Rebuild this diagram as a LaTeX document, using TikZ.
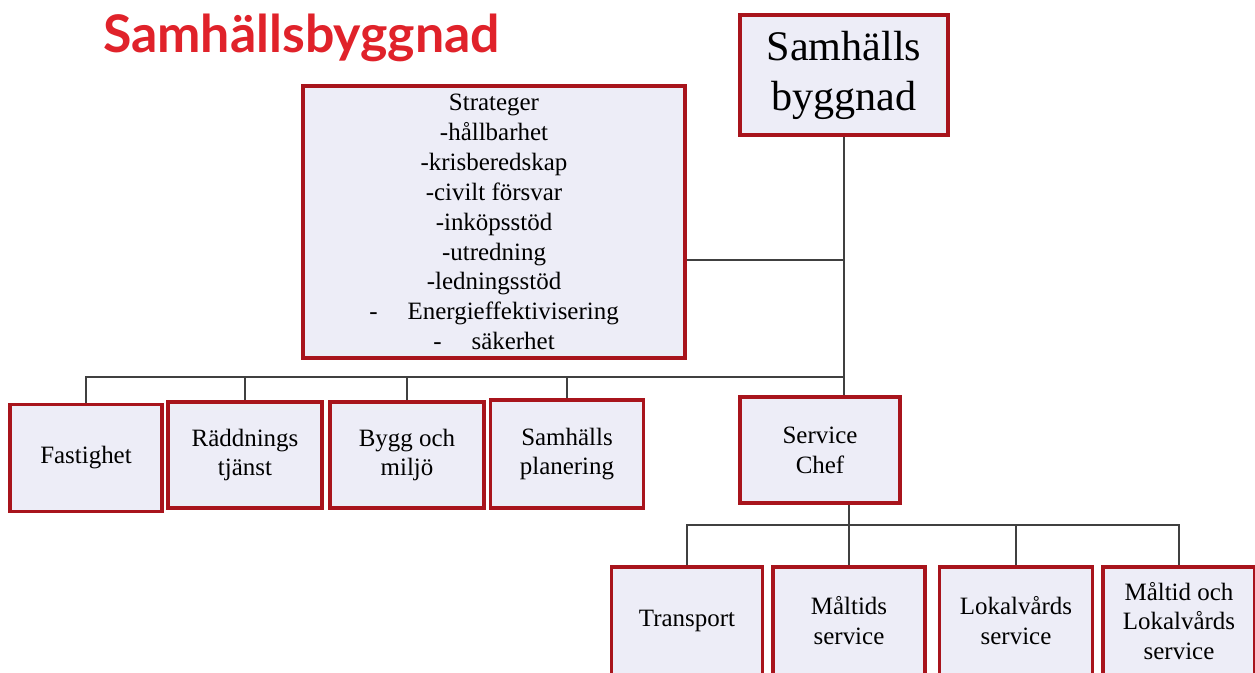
\documentclass[tikz,border=0pt]{standalone}
\usepackage{fontspec}
\setmainfont{Liberation Serif}
\newfontfamily\titlefont{Lato}
\usepackage{xcolor}
\usetikzlibrary{calc, positioning}

\definecolor{boxfill}{HTML}{EDEDF7}
\definecolor{boxline}{HTML}{A8141C}
\definecolor{titlered}{HTML}{E0222A}

\tikzset{
    unit/.style={draw=boxline, fill=boxfill, rectangle, line width=1.8pt, align=center,
        inner sep=2pt, font=\fontsize{14.2}{17}\selectfont},
    link/.style={draw=black!75, line width=0.8pt}
}

\begin{document}
\begin{tikzpicture}
    \clip (0,0) rectangle (25.1,-13.44);

    % Heading in red
    \node[text=titlered, font=\titlefont\bfseries\fontsize{29.5}{34}\selectfont] (title) at (6.03,-0.76) {Samhällsbyggnad};

    % Top of the organisation
    \node[unit, minimum width=4.16cm, minimum height=2.4cm, font=\fontsize{24}{28.5}\selectfont] (top) at (16.88,-1.50)
    {\rule{0pt}{0.2cm}Samhälls\\byggnad};

    % Staff box with the strategies
    \node[unit, minimum width=7.64cm, minimum height=5.44cm] (strat) at (9.88,-4.44)
    {Strateger\\-hållbarhet\\-krisberedskap\\-civilt försvar\\-inköpsstöd\\-utredning\\-ledningsstöd\\
     -\hspace{0.6cm}Energieffektivisering\\-\hspace{0.6cm}säkerhet};

    % Units on the first level
    \node[unit, minimum width=3.04cm, minimum height=2.14cm] (fast) at (1.72,-9.16) {Fastighet};
    \node[unit, minimum width=3.08cm, minimum height=2.12cm] (radd) at (4.90,-9.10) {Räddnings\\tjänst};
    \node[unit, minimum width=3.08cm, minimum height=2.12cm] (bygg) at (8.14,-9.10) {Bygg och\\miljö};
    \node[unit, minimum width=3.06cm, minimum height=2.16cm] (plan) at (11.34,-9.08) {Samhälls\\planering};
    \node[unit, minimum width=3.2cm, minimum height=2.12cm] (chef) at (16.40,-9.00) {Service\\Chef};

    % Units under the service chief
    \node[unit, minimum width=3.02cm, minimum height=2.16cm] (trans) at (13.74,-12.42) {Transport};
    \node[unit, minimum width=3.04cm, minimum height=2.16cm] (malt) at (16.98,-12.42) {Måltids\\service};
    \node[unit, minimum width=3.06cm, minimum height=2.16cm] (lokal) at (20.32,-12.42) {Lokalvårds\\service};
    \node[unit, minimum width=3.04cm, minimum height=2.16cm] (mlok) at (23.58,-12.42) {Måltid och\\Lokalvårds\\service};

    % Lines
    \coordinate (bus1) at (top.south |- 0,-7.54);
    \coordinate (bus2) at (0,-10.5);
    \coordinate (stratout) at ([yshift=-0.76cm]strat.east);

    \draw[link] (top.south) -- (top.south |- chef.north);
    \draw[link] (stratout) -- (stratout -| top.south);
    \draw[link] (fast.north) |- (bus1);
    \draw[link] (radd.north) -- (radd.north |- bus1);
    \draw[link] (bygg.north) -- (bygg.north |- bus1);
    \draw[link] (plan.north) -- (plan.north |- bus1);

    \draw[link] (malt.north) -- (malt.north |- chef.south);
    \draw[link] (trans.north) |- (bus2 -| mlok.north) -- (mlok.north);
    \draw[link] (lokal.north) -- (lokal.north |- bus2);
\end{tikzpicture}
\end{document}
